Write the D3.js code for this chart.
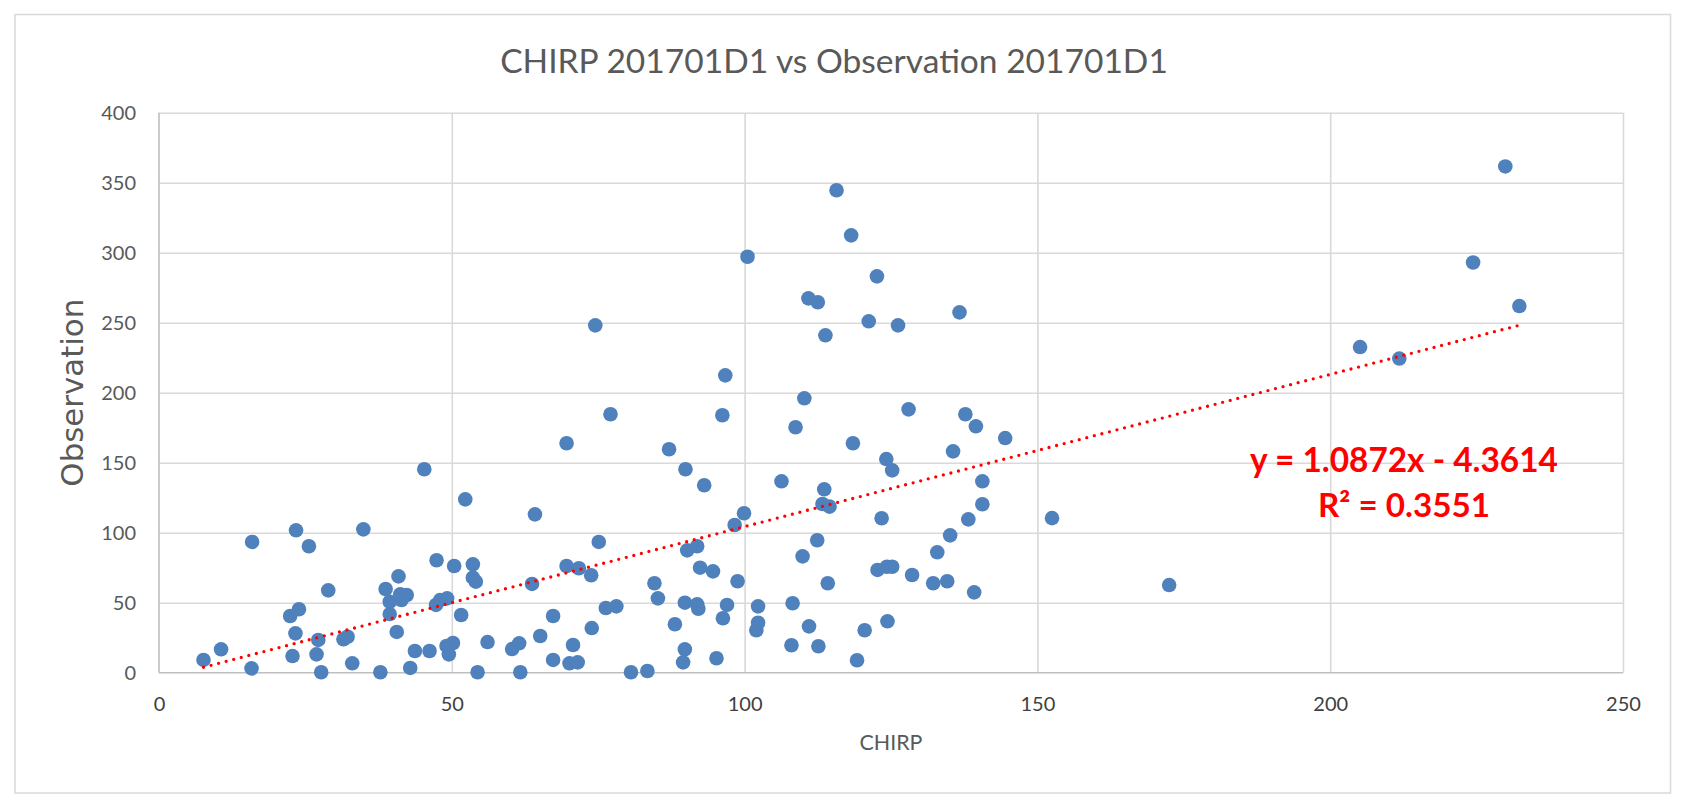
<!DOCTYPE html>
<html><head><meta charset="utf-8">
<script src="https://cdn.jsdelivr.net/npm/d3@7"></script>
<style>html,body{margin:0;padding:0;background:#fff;} svg{display:block;}</style>
</head><body>
<svg id="chart" width="1685" height="806"></svg>
<script>
const chartTitle = "CHIRP 201701D1 vs Observation 201701D1";
const xAxisTitle = "CHIRP";
const yAxisTitle = "Observation";
const chirp = [7.6,10.6,15.8,15.9,22.4,22.8,23.3,23.4,23.9,25.6,26.9,27.2,27.7,28.9,31.5,32.2,33.0,34.9,37.8,38.7,39.4,39.4,40.6,40.9,
  41.2,42.3,41.4,43.7,42.9,45.3,46.2,47.4,47.3,48.0,49.2,49.1,50.2,49.5,50.4,51.6,52.3,53.6,53.6,54.1,54.4,56.1,60.3,61.5,61.7,63.7,
  64.2,65.1,67.3,67.3,69.6,69.6,71.7,73.8,70.7,70.1,71.5,73.9,74.5,75.1,76.3,77.1,78.1,80.6,83.4,84.6,85.2,87.1,88.1,89.5,89.8,89.8,
  89.9,90.2,91.9,91.9,92.1,92.4,93.1,94.6,95.2,96.2,96.3,96.7,97.0,98.3,98.8,99.9,100.5,102.0,102.3,102.3,106.3,108.0,108.2,108.7,
  109.9,110.2,110.9,111.0,112.4,112.5,112.6,113.3,113.6,113.8,114.2,114.5,115.7,118.2,118.5,119.2,120.5,121.2,122.6,122.7,123.4,
  124.2,124.3,124.4,125.2,125.2,126.2,128.0,128.6,132.2,132.9,134.6,135.1,135.6,136.7,137.7,138.2,139.2,139.5,140.6,140.6,144.5,
  152.5,172.5,205.1,211.8,224.4,229.9,232.3];
const observation = [9.1,16.7,3.1,93.4,40.5,11.9,28.1,101.7,45.3,90.3,13.1,23.4,0.3,58.8,23.9,25.7,6.7,102.4,0.3,59.8,41.9,50.7,29.1,68.8,
  56.0,55.5,51.9,15.5,3.4,145.3,15.5,80.3,48.4,51.9,53.1,19.1,21.2,13.1,76.2,41.2,123.8,77.4,67.9,65.0,0.3,21.9,16.9,21.0,0.3,63.4,
  113.1,26.2,40.5,9.1,163.9,76.2,74.6,69.6,19.8,6.7,7.4,31.9,248.1,93.4,46.2,184.6,47.4,0.3,1.2,63.9,53.1,159.6,34.6,7.4,16.7,50.0,
  145.3,87.4,90.3,48.8,45.7,75.0,133.9,72.4,10.3,183.9,38.9,212.4,48.4,105.5,65.3,113.9,297.1,30.3,35.7,47.4,136.7,19.6,49.6,175.3,
  83.1,196.0,267.4,33.1,94.6,264.6,18.9,120.5,131.0,241.0,63.9,118.6,344.6,312.4,163.9,8.9,30.3,251.0,283.1,73.4,110.3,
  152.6,75.7,36.7,75.7,144.5,248.1,188.1,69.8,63.9,86.0,65.3,98.1,158.1,257.4,184.6,109.5,57.4,176.0,136.7,120.3,167.6,
  110.4,62.6,232.6,224.4,293.0,361.6,261.9];
const xTickValues = [0, 50, 100, 150, 200, 250];
const yTickValues = [0, 50, 100, 150, 200, 250, 300, 350, 400];
const trendSlope = 1.0872;
const trendIntercept = -4.3614;
const equationText = "y = 1.0872x - 4.3614";
const r2Text = "R² = 0.3551";

const svg = d3.select("#chart");
const W = 1685, H = 806;
const plot = {left: 159, right: 1623, top: 112.7, bottom: 672.7};
const FONT = "Lato, 'Open Sans', sans-serif";

function fitWidth(sel, target) {
  const w = sel.node().getComputedTextLength();
  const fs = parseFloat(sel.attr("font-size"));
  sel.attr("font-size", fs * target / w);
}

svg.append("rect").attr("x", 0).attr("y", 0).attr("width", W).attr("height", H).attr("fill", "#fff");
svg.append("rect").attr("x", 15).attr("y", 14.5).attr("width", 1655.5).attr("height", 778.5)
  .attr("fill", "none").attr("stroke", "#D9D9D9").attr("stroke-width", 1.5);

const x = d3.scaleLinear().domain([0, 250]).range([plot.left, plot.right]);
const y = d3.scaleLinear().domain([0, 400]).range([plot.bottom, plot.top]);

// gridlines
svg.append("g").attr("transform", `translate(${plot.left},0)`)
  .call(d3.axisLeft(y).tickValues(yTickValues.filter(v => v > 0)).tickSize(-(plot.right - plot.left)).tickFormat(""))
  .call(g => g.select(".domain").remove())
  .call(g => g.selectAll("line").attr("stroke", "#D9D9D9").attr("stroke-width", 1.6));
svg.append("g").attr("transform", `translate(0,${plot.bottom})`)
  .call(d3.axisBottom(x).tickValues(xTickValues.filter(v => v > 0)).tickSize(-(plot.bottom - plot.top)).tickFormat(""))
  .call(g => g.select(".domain").remove())
  .call(g => g.selectAll("line").attr("stroke", "#D9D9D9").attr("stroke-width", 1.6));

// axis lines
svg.append("line").attr("x1", x(0)).attr("x2", x(0)).attr("y1", y(400)).attr("y2", y(0))
  .attr("stroke", "#BFBFBF").attr("stroke-width", 1.6);
svg.append("line").attr("x1", x(0)).attr("x2", x(250)).attr("y1", y(0)).attr("y2", y(0))
  .attr("stroke", "#BFBFBF").attr("stroke-width", 1.6);

// tick labels
const yAx = svg.append("g").attr("transform", `translate(${plot.left},0)`)
  .call(d3.axisLeft(y).tickValues(yTickValues).tickSize(0).tickPadding(23));
yAx.select(".domain").remove();
yAx.selectAll("text").attr("font-family", FONT).attr("font-size", 20).attr("fill", "#595959");

const xAx = svg.append("g").attr("transform", `translate(0,${plot.bottom})`)
  .call(d3.axisBottom(x).tickValues(xTickValues).tickSize(0).tickPadding(24.5));
xAx.select(".domain").remove();
xAx.selectAll("text").attr("font-family", FONT).attr("font-size", 20).attr("fill", "#404040");

// points
const pts = chirp.map((c, i) => ({x: c, y: observation[i]}));
svg.append("g").selectAll("circle").data(pts).join("circle")
  .attr("cx", d => x(d.x)).attr("cy", d => y(d.y)).attr("r", 7.3).attr("fill", "#4F81BD");

// trendline
const xMin = d3.min(chirp), xMax = d3.max(chirp);
const trend = [xMin, xMax].map(v => ({x: v, y: trendSlope * v + trendIntercept}));
svg.append("path").datum(trend)
  .attr("d", d3.line().x(d => x(d.x)).y(d => y(d.y)))
  .attr("fill", "none").attr("stroke", "#FF0000").attr("stroke-width", 3.3)
  .attr("stroke-linecap", "round").attr("stroke-dasharray", "0 7.8");

// title
const t = svg.append("text").attr("x", 834).attr("y", 73).attr("text-anchor", "middle")
  .attr("font-family", FONT).attr("font-size", 33).attr("fill", "#595959").text(chartTitle);
fitWidth(t, 668);

// axis titles
const xt = svg.append("text").attr("x", (plot.left + plot.right) / 2).attr("y", 750).attr("text-anchor", "middle")
  .attr("font-family", FONT).attr("font-size", 23).attr("fill", "#595959").text(xAxisTitle);
fitWidth(xt, 63);
const yt = svg.append("text").attr("transform", `translate(83,${(plot.top + plot.bottom) / 2}) rotate(-90)`)
  .attr("text-anchor", "middle").attr("font-family", "'DejaVu Sans', Verdana, sans-serif")
  .attr("font-size", 30).attr("fill", "#595959").text(yAxisTitle);
fitWidth(yt, 188);

// equation
const eq = svg.append("text").attr("x", 1404).attr("y", 472).attr("text-anchor", "middle")
  .attr("font-family", FONT).attr("font-weight", "bold").attr("font-size", 32).attr("fill", "#FF0000").text(equationText);
fitWidth(eq, 308);
const r2 = svg.append("text").attr("x", 1404).attr("y", 517).attr("text-anchor", "middle")
  .attr("font-family", FONT).attr("font-weight", "bold").attr("font-size", 32).attr("fill", "#FF0000").text(r2Text);
fitWidth(r2, 172);
</script>
</body></html>
